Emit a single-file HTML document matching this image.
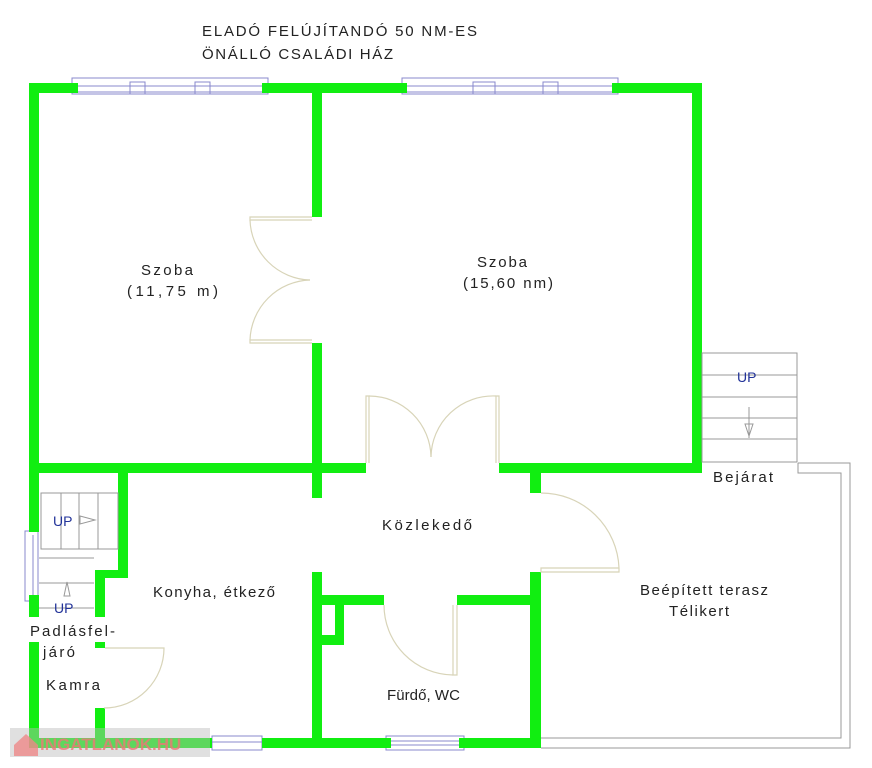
<!DOCTYPE html>
<html><head><meta charset="utf-8"><style>
html,body{margin:0;padding:0;background:#fff}
svg{display:block}
text{font-family:"Liberation Sans",sans-serif;fill:#222}
</style></head><body>
<svg width="872" height="768" viewBox="0 0 872 768" xmlns="http://www.w3.org/2000/svg">
<rect width="872" height="768" fill="#fff"/>
<text x="202" y="36" font-size="15" textLength="275" lengthAdjust="spacing">ELADÓ FELÚJÍTANDÓ 50 NM-ES</text>
<text x="202" y="59" font-size="15" textLength="191" lengthAdjust="spacing">ÖNÁLLÓ CSALÁDI HÁZ</text>

<g fill="none" stroke="#8888cc" stroke-width="1">
<rect x="72" y="78" width="196" height="16"/>
<line x1="78" y1="86" x2="262" y2="86"/><line x1="78" y1="92" x2="262" y2="92"/>
<rect x="130" y="82" width="15" height="12"/><rect x="195" y="82" width="15" height="12"/>
<rect x="402" y="78" width="216" height="16"/>
<line x1="407" y1="86" x2="612" y2="86"/><line x1="407" y1="92" x2="612" y2="92"/>
<rect x="473" y="82" width="22" height="12"/><rect x="543" y="82" width="15" height="12"/>
<rect x="25" y="531" width="13" height="70"/><line x1="33" y1="535" x2="33" y2="597"/>
<rect x="212" y="736" width="50" height="14"/><line x1="212" y1="742" x2="262" y2="742"/>
<rect x="386" y="736" width="78" height="14"/><line x1="391" y1="741" x2="459" y2="741"/><line x1="391" y1="745" x2="459" y2="745"/>
</g>

<g fill="#11ee11">
<rect x="29" y="83" width="49" height="10"/>
<rect x="262" y="83" width="145" height="10"/>
<rect x="612" y="83" width="90" height="10"/>
<rect x="29" y="83" width="10" height="449"/>
<rect x="29" y="595" width="10" height="22"/>
<rect x="29" y="642" width="10" height="106"/>
<rect x="692" y="83" width="10" height="389"/>
<rect x="312" y="83" width="10" height="134"/>
<rect x="312" y="343" width="10" height="155"/>
<rect x="29" y="463" width="337" height="10"/>
<rect x="499" y="463" width="203" height="10"/>
<rect x="118" y="463" width="10" height="115"/>
<rect x="95" y="570" width="33" height="8"/>
<rect x="95" y="570" width="10" height="47"/>
<rect x="95" y="642" width="10" height="6"/>
<rect x="95" y="708" width="10" height="40"/>
<rect x="29" y="738" width="183" height="10"/>
<rect x="262" y="738" width="129" height="10"/>
<rect x="459" y="738" width="82" height="10"/>
<rect x="530" y="473" width="11" height="20"/>
<rect x="530" y="572" width="11" height="176"/>
<rect x="312" y="572" width="10" height="176"/>
<rect x="312" y="595" width="72" height="10"/>
<rect x="457" y="595" width="84" height="10"/>
<rect x="322" y="605" width="22" height="40"/>
</g>
<rect x="322" y="605" width="13" height="30" fill="#fff"/>

<g fill="none" stroke="#d8d4b8" stroke-width="1.2">
<path d="M312 217 H250 V220 H312"/><path d="M250 220 A62 62 0 0 0 310 280"/>
<path d="M312 343 H250 V340 H312"/><path d="M250 340 A62 62 0 0 1 310 280"/>
<path d="M366 463 V396 H369 V463"/><path d="M369 396 A62 62 0 0 1 431 457"/>
<path d="M499 463 V396 H496 V463"/><path d="M496 396 A62 62 0 0 0 431 457"/>
<path d="M541 493 H541 A78 78 0 0 1 619 568 H541 V572 H619 V568"/>
<path d="M384 605 A70 70 0 0 0 453 675"/>
<path d="M453 605 V675 H457 V605"/>
<path d="M105 648 H164 A60 60 0 0 1 104 708"/>
</g>

<g fill="none" stroke="#999" stroke-width="1">
<rect x="702" y="353" width="95" height="109"/>
<line x1="702" y1="375" x2="797" y2="375"/><line x1="702" y1="397" x2="797" y2="397"/>
<line x1="702" y1="418" x2="797" y2="418"/><line x1="702" y1="439" x2="797" y2="439"/>
<line x1="749" y1="407" x2="749" y2="438"/>
<path d="M745 424 L753 424 L749 436 Z"/>
<path d="M798 463 H850 V748 H541"/>
<path d="M798 463 V473 H841 V738 H541"/>
<rect x="41" y="493" width="77" height="56"/>
<line x1="61" y1="493" x2="61" y2="549"/><line x1="79" y1="493" x2="79" y2="549"/><line x1="98" y1="493" x2="98" y2="549"/>
<path d="M80 516 L95 520 L80 524 Z"/>
<path d="M39 558 H94 M39 583 H94 M39 608 H94"/>
<path d="M64 596 L70 596 L67 582 Z"/>
</g>
<text x="737" y="382" font-size="14" style="fill:#223399">UP</text>
<text x="53" y="526" font-size="14" style="fill:#223399">UP</text>
<text x="54" y="613" font-size="14" style="fill:#223399">UP</text>

<g font-size="15" lengthAdjust="spacing">
<text x="141" y="275" textLength="52" lengthAdjust="spacing">Szoba</text>
<text x="127" y="296" textLength="91" lengthAdjust="spacing">(11,75 m)</text>
<text x="477" y="267" textLength="50" lengthAdjust="spacing">Szoba</text>
<text x="463" y="288" textLength="90" lengthAdjust="spacing">(15,60 nm)</text>
<text x="713" y="482" textLength="60" lengthAdjust="spacing">Bejárat</text>
<text x="382" y="530" textLength="90" lengthAdjust="spacing">Közlekedő</text>
<text x="153" y="597" textLength="122" lengthAdjust="spacing">Konyha, étkező</text>
<text x="30" y="636" textLength="85" lengthAdjust="spacing">Padlásfel-</text>
<text x="43" y="657" textLength="32" lengthAdjust="spacing">járó</text>
<text x="46" y="690" textLength="54" lengthAdjust="spacing">Kamra</text>
<text x="640" y="595" textLength="128" lengthAdjust="spacing">Beépített terasz</text>
<text x="669" y="616" textLength="60" lengthAdjust="spacing">Télikert</text>
<text x="387" y="700" textLength="73" lengthAdjust="spacing">Fürdő, WC</text>
</g>

<rect x="10" y="728" width="200" height="29" fill="#bbbbbb" opacity="0.45"/>
<path d="M14 745 L26 734 L38 745 V756 H14 Z" fill="#e88" opacity="0.8"/>
<text x="40" y="750" font-size="17" font-weight="bold" style="fill:#e77" opacity="0.8">INGATLANOK.HU</text>
</svg>
</body></html>
